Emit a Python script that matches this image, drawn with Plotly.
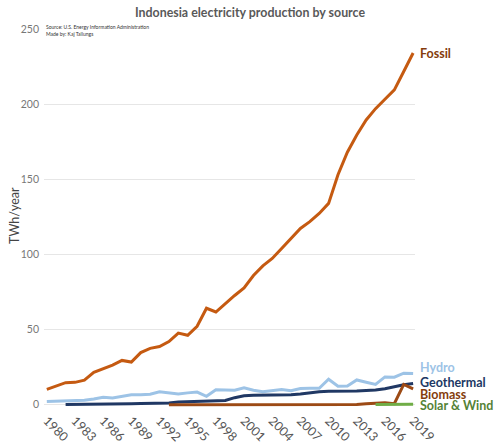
"""Indonesia electricity production by source, redrawn with Plotly."""

import plotly.graph_objects as go

YEARS = list(range(1980, 2020))

FOSSIL = [
    10.2, 12.2, 14.7, 14.9, 16.4, 21.5, 24.0, 26.4, 29.5, 28.4,
    34.7, 37.5, 38.7, 42.0, 47.7, 46.2, 52.2, 64.2, 61.7, 67.3,
    72.7, 77.7, 86.0, 92.4, 97.3, 104.0, 110.7, 117.3, 121.8, 127.3,
    134.0, 153.0, 168.0, 179.5, 189.5, 197.0, 203.3, 209.5, 221.7, 234.0,
]
HYDRO = [
    2.2, 2.4, 2.4, 2.6, 3.0, 3.8, 5.0, 4.5, 5.5, 6.6,
    6.6, 7.0, 8.6, 7.8, 7.2, 7.9, 8.4, 5.6, 10.0, 9.8,
    9.6, 11.2, 9.6, 8.6, 9.2, 10.2, 9.3, 10.8, 11.0, 11.0,
    17.0, 12.3, 12.5, 16.5, 15.0, 13.5, 18.5, 18.3, 21.0, 20.8,
]
# geothermal starts in 1982
GEOTHERMAL = [
    None, None, 0.2, 0.2, 0.3, 0.4, 0.5, 0.6, 0.7, 0.7,
    0.8, 0.8, 0.9, 1.2, 1.8, 2.1, 2.3, 2.5, 2.6, 2.8,
    4.7, 6.0, 6.3, 6.3, 6.7, 6.7, 6.7, 7.1, 7.9, 8.6,
    8.9, 8.9, 8.9, 9.1, 9.5, 9.8, 10.7, 12.2, 13.3, 14.2,
]
# biomass starts in 1993
BIOMASS = [None] * 13 + [
    0.0, 0.0, 0.0, 0.0, 0.0, 0.0, 0.0,
    0.0, 0.0, 0.0, 0.0, 0.0, 0.0, 0.0, 0.0, 0.0, 0.0,
    0.0, 0.0, 0.0, 0.1, 0.7, 1.0, 1.4, 0.7, 13.5, 10.6,
]
SOLAR_WIND = [None] * 35 + [0.1, 0.1, 0.2, 0.2, 0.3]

SERIES = [
    ("Hydro", HYDRO, "#9dc3e6", "#9dc3e6"),
    ("Geothermal", GEOTHERMAL, "#203864", "#203864"),
    ("Biomass", BIOMASS, "#9c4a15", "#843c0c"),
    ("Solar & Wind", SOLAR_WIND, "#70ad47", "#548235"),
    ("Fossil", FOSSIL, "#c55a11", "#843c0c"),
]

# label heights (TWh) at the right end, nudged apart so they do not overlap
LABEL_Y = {"Fossil": 234, "Hydro": 24.5, "Geothermal": 15, "Biomass": 7, "Solar & Wind": -0.5}

FONT = "Lato, 'Open Sans', sans-serif"

fig = go.Figure()
for name, values, line_color, _ in SERIES:
    fig.add_trace(go.Scatter(
        x=YEARS, y=values, mode="lines", name=name,
        line=dict(color=line_color, width=3),
        connectgaps=False, hoverinfo="x+y+name",
    ))

for name, values, _, label_color in SERIES:
    fig.add_annotation(
        x=YEARS[-1], y=LABEL_Y[name], xref="x", yref="y",
        text=f"<b>{name}</b>", showarrow=False,
        xanchor="left", yanchor="middle", xshift=5,
        font=dict(family=FONT, size=12.5, color=label_color),
    )

fig.add_annotation(
    x=0.0, y=1.0, xref="paper", yref="paper",
    text="Source: U.S. Energy Information Administration<br>Made by: Kaj Tallungs",
    showarrow=False, xanchor="left", yanchor="top", align="left", yshift=7,
    font=dict(family=FONT, size=5, color="#333333"),
)

# y axis title as an annotation so it can sit where the original has it
fig.add_annotation(
    x=0.0, y=0.5, xref="paper", yref="paper",
    text="TWh/year", textangle=-90, showarrow=False,
    xanchor="center", yanchor="middle", xshift=-30, yshift=2,
    font=dict(family=FONT, size=12.5, color="#444444"),
)

fig.update_layout(
    width=500, height=448,
    showlegend=False,
    plot_bgcolor="white", paper_bgcolor="white",
    font=dict(family=FONT, size=11, color="#666666"),
    title=dict(
        text="<b>Indonesia electricity production by source</b>",
        x=0.5, xanchor="center", y=0.972, yanchor="middle",
        font=dict(family=FONT, size=12.4, color="#595959"),
    ),
    margin=dict(l=44, r=85, t=29, b=41),
    xaxis=dict(
        range=[1979.7, 2019.2], tickmode="array",
        tickvals=YEARS[::3], ticktext=[str(y) for y in YEARS[::3]],
        tickangle=45, showgrid=False, zeroline=False, showline=False,
        ticks="", ticklen=0, ticklabelstandoff=3,
        tickfont=dict(size=12.5, color="#555555"), automargin=False,
    ),
    yaxis=dict(
        range=[-1.5, 250], tickvals=[0, 50, 100, 150, 200, 250],
        showgrid=True, gridcolor="#e6e6e6", gridwidth=1, zeroline=False,
        showline=False, ticks="", ticklen=0, ticklabelstandoff=4,
        tickfont=dict(size=10.5, color="#777777"),
        automargin=False,
    ),
)

# page has a default body margin; drop it so the figure sits at the corner
fig.write_html(
    "out.html",
    config={"displayModeBar": False},
    post_script="document.body.style.margin='0';",
)
